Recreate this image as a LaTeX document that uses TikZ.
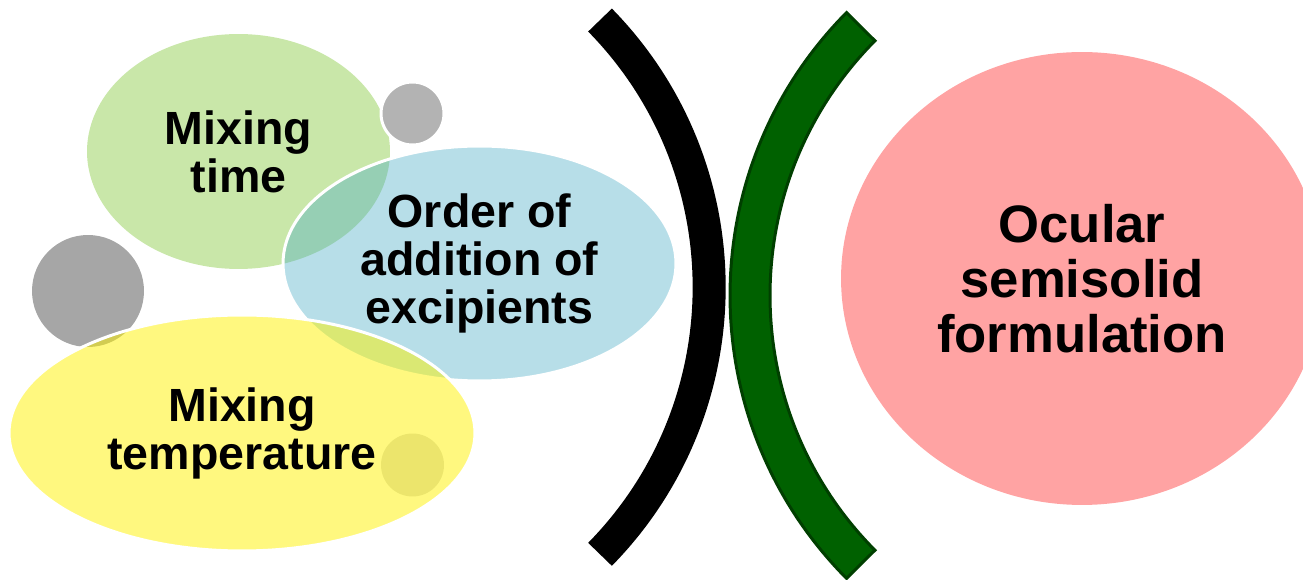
\documentclass[tikz,border=0pt]{standalone}
\usepackage{fontspec}
\setmainfont{Liberation Sans}
\usetikzlibrary{positioning,shapes}

\definecolor{timegreen}{HTML}{C9E7A9}
\definecolor{ordblue}{HTML}{4BACC6}
\definecolor{dotgray}{HTML}{A6A6A6}
\definecolor{faintgray}{HTML}{D9D9D9}
\definecolor{ocupink}{HTML}{FFA3A3}
\definecolor{bandgreen}{HTML}{006100}
\definecolor{bandedge}{HTML}{003F00}

\begin{document}
\begin{tikzpicture}[
  x=0.02cm, y=-0.02cm,
  blob/.style={ellipse,inner sep=0pt,align=center,text opacity=1,
    font=\fontsize{26.5pt}{27.3pt}\selectfont\bfseries},
  halo/.style={draw=white,line width=1.7pt},
  dot/.style={circle,inner sep=0pt,fill=dotgray}
]
\useasboundingbox (0,0) rectangle (1303,580);
\clip (0,0) rectangle (1303,580);
% left cluster
\node[blob,fill=timegreen,minimum width=6.06cm,minimum height=4.7cm] (mt) at (238.5,151.5) {Mixing\\time};
\node[dot,halo,fill=dotgray!85,minimum size=1.26cm] (g1) at (412.5,113.5) {};
\node[blob,halo,fill=ordblue,fill opacity=0.4,minimum width=7.86cm,minimum height=4.7cm] (ord) at (479.5,263.5) {Order of\\addition of\\excipients};
\node[dot,minimum size=2.24cm] (g2) at (88,291) {};
\node[dot,fill=faintgray,minimum size=1.26cm] (g3) at (412.5,465) {};
\node[blob,halo,fill=yellow,fill opacity=0.5,minimum width=9.32cm,minimum height=4.72cm] (temp) at (242,433) {Mixing\\temperature};
% brackets
\draw[line width=18.8pt] ([shift={(327.7,287.2)}]-44.45:381.5) arc[start angle=-44.45,end angle=44.45,radius=381.5];
\filldraw[fill=bandgreen,draw=bandedge,line width=1.7pt]
  ([shift={(1131.7,295.5)}]135.23:361.7) arc[start angle=135.23,end angle=224.77,radius=361.7]
  -- ([shift={(1131.7,295.5)}]224.77:401.7) arc[start angle=224.77,end angle=135.23,radius=401.7] -- cycle;
% result
\node[blob,fill=ocupink,minimum width=9.64cm,minimum height=9.06cm,
  font=\fontsize{30pt}{31.3pt}\selectfont\bfseries] (ocu) at (1082,278.5) {Ocular\\semisolid\\formulation};
\end{tikzpicture}
\end{document}
